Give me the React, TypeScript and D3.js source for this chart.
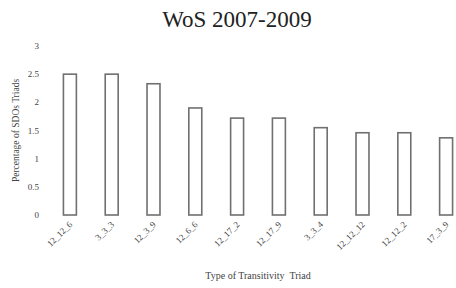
import { FunctionComponent } from "react";
import * as d3 from "d3";

const triads = ["12_12_6", "3_3_3", "12_3_9", "12_6_6", "12_17_2", "12_17_9", "3_3_4", "12_12_12", "12_12_2", "17_3_9"];
const percents = [2.5, 2.5, 2.33, 1.9, 1.72, 1.72, 1.55, 1.46, 1.46, 1.37];
const yTicks = [0, 0.5, 1, 1.5, 2, 2.5, 3];

const width = 456;
const height = 288;
const font = "'Liberation Serif', 'Times New Roman', serif";

const App: FunctionComponent = () => {
    const x = d3.scaleBand<string>()
        .domain(triads)
        .range([49, 467])
        .paddingInner(0.69)
        .paddingOuter(0.345);
    const y = d3.scaleLinear()
        .domain([0, 3])
        .range([215, 46]);

    const bw = x.bandwidth();

    return (
        <svg width={width} height={height} style={{ position: "absolute", left: 0, top: 0, background: "#fff" }} fontFamily={font}>
            <text x={237} y={27} textAnchor="middle" fontSize={23} fill="#222">WoS 2007-2009</text>

            {/* y ticks */}
            {yTicks.map(t => (
                <text key={t} x={39} y={y(t) + 3} textAnchor="end" fontSize={9} fill="#444">{t}</text>
            ))}
            <text transform={`translate(19,${(y(0) + y(3)) / 2}) rotate(-90)`} textAnchor="middle" fontSize={9.5} fill="#444">
                Percentage of SDOs Triads
            </text>

            {/* bars */}
            {triads.map((d, i) => (
                <rect key={d}
                    x={(x(d) ?? 0)}
                    y={y(percents[i])}
                    width={bw}
                    height={y(0) - y(percents[i])}
                    fill="#fff"
                    stroke="#707070"
                    strokeWidth={1.6} />
            ))}

            {/* x tick labels */}
            {triads.map(d => {
                const cx = (x(d) ?? 0) + bw / 2 + 3;
                return (
                    <text key={d} transform={`translate(${cx},225) rotate(-45)`} textAnchor="end" fontSize={9} fill="#444">{d}</text>
                );
            })}

            <text x={(49 + 467) / 2} y={279} textAnchor="middle" fontSize={10} fill="#444" style={{ whiteSpace: "pre" }}>
                Type of Transitivity  Triad
            </text>
        </svg>
    );
};

export default App;
